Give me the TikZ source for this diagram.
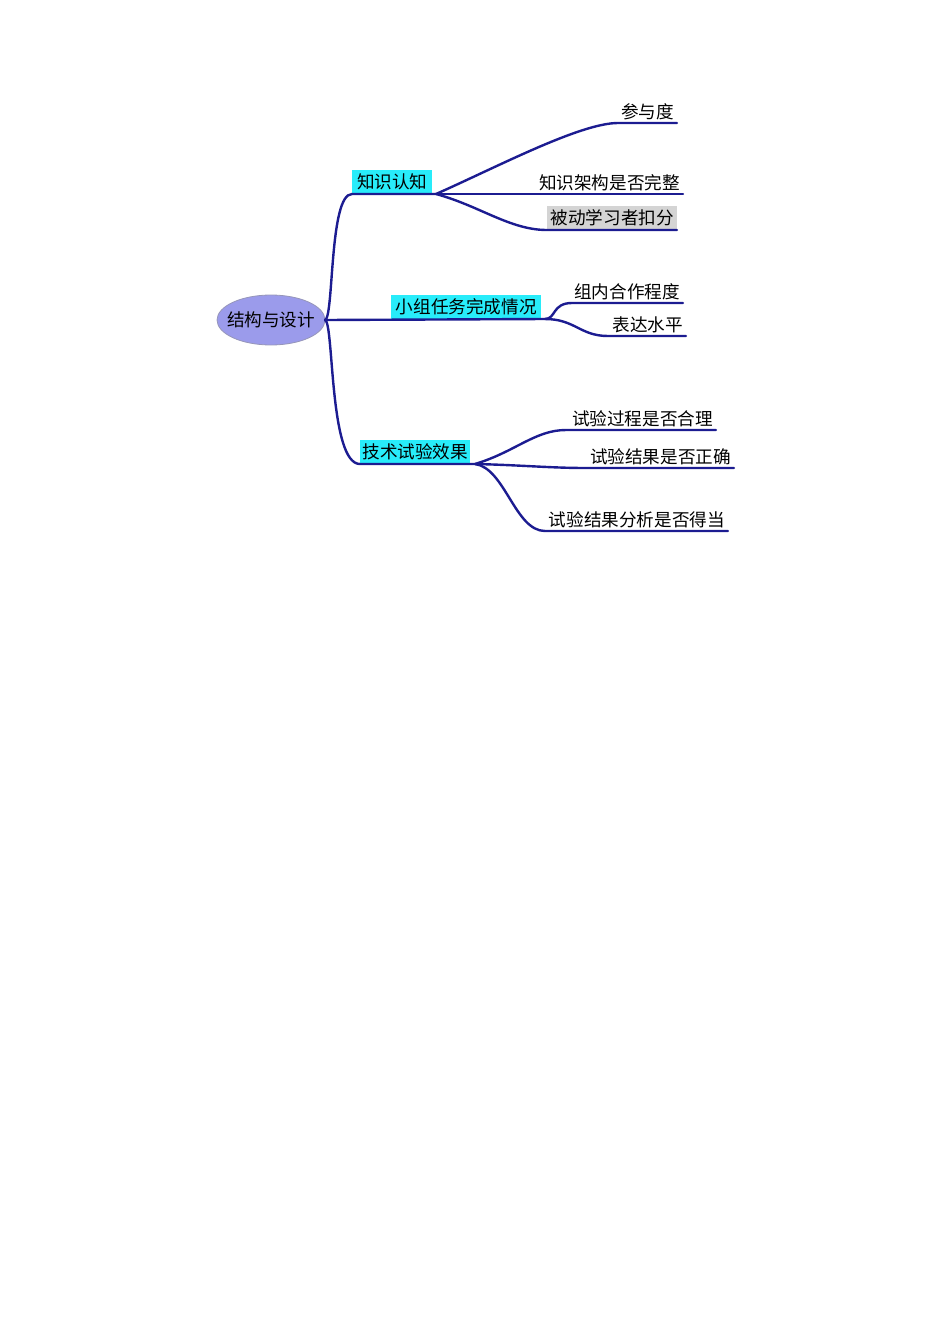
\documentclass[tikz,border=0pt]{standalone}
\usepackage{fontspec}
\usetikzlibrary{shapes.geometric}
\newfontfamily\cjk{Noto Sans CJK SC}
\definecolor{linkblue}{RGB}{28,28,145}
\definecolor{boxcyan}{RGB}{40,236,250}
\definecolor{rootfill}{RGB}{155,155,235}
\definecolor{rootline}{RGB}{150,150,185}
\definecolor{boxgray}{RGB}{212,212,212}
\begin{document}
\begin{tikzpicture}[x=1pt,y=-1pt,
  link/.style={draw=linkblue, line width=2.4pt, line cap=round, line join=round},
  lab/.style={font=\cjk\fontsize{17.6}{17.6}\selectfont, inner sep=0pt, anchor=base east, text=black},
  hbox/.style={font=\cjk\fontsize{17.6}{17.6}\selectfont, fill=boxcyan, inner sep=0pt, minimum height=24pt, anchor=south west, text=black},
  gbox/.style={font=\cjk\fontsize{17.6}{17.6}\selectfont, fill=boxgray, inner sep=0pt, minimum height=23pt, anchor=south west, text=black},
  rootnode/.style={ellipse, draw=rootline, line width=0.8pt, fill=rootfill, minimum width=108pt, minimum height=50pt, inner xsep=-14pt, inner ysep=0pt, font=\cjk\fontsize{17.6}{17.6}\selectfont}
]
\useasboundingbox (0,0) rectangle (950,1344);

% root
\node[rootnode] (root) at (271,320) {结构与设计};
\coordinate (r) at (325,320);

% main branches (boxes)
\node[hbox, minimum width=80pt] (b1) at (352,194) {知识认知};
\node[hbox, minimum width=150pt] (b2) at (391,319) {小组任务完成情况};
\node[hbox, minimum width=110pt] (b3) at (360,464) {技术试验效果};

\coordinate (j1) at (436,194);
\coordinate (j2) at (545,319);
\coordinate (j3) at (475,464);

\draw[link] (r) .. controls (334,318) and (329,194) .. (b1.south west) -- (j1);
\draw[link] (r) -- (j2);
\draw[link] (r) .. controls (334,322) and (329,464) .. (b3.south west) -- (j3);

% branch 1 children
\node[lab] (c11) at (674,118) {参与度};
\node[lab] (c12) at (680,189) {知识架构是否完整};
\node[gbox, minimum width=130pt] (c13) at (547,229) {被动学习者扣分};
\coordinate (u11a) at (618,123); \coordinate (u11b) at (677,123);
\coordinate (u12a) at (535,194); \coordinate (u12b) at (683,194);
\coordinate (u13a) at (547,230); \coordinate (u13b) at (677,230);
\draw[link] (j1) .. controls (495,168) and (580,123) .. (u11a) -- (u11b);
\draw[link] (j1) -- (u12a) -- (u12b);
\draw[link] (j1) .. controls (480,206) and (510,230) .. (u13a) -- (u13b);

% branch 2 children
\node[lab] (c21) at (680,298) {组内合作程度};
\node[lab] (c22) at (683,331) {表达水平};
\coordinate (u21a) at (572,303); \coordinate (u21b) at (683,303);
\coordinate (u22a) at (608,336); \coordinate (u22b) at (686,336);
\draw[link] (j2) .. controls (556,319) and (552,303) .. (u21a) -- (u21b);
\draw[link] (j2) .. controls (575,319) and (580,336) .. (u22a) -- (u22b);

% branch 3 children
\node[lab] (c31) at (713,425) {试验过程是否合理};
\node[lab] (c32) at (731,463) {试验结果是否正确};
\node[lab] (c33) at (725,526) {试验结果分析是否得当};
\coordinate (u31a) at (566,430); \coordinate (u31b) at (716,430);
\coordinate (u32a) at (586,468); \coordinate (u32b) at (734,468);
\coordinate (u33a) at (545,531); \coordinate (u33b) at (728,531);
\draw[link] (j3) .. controls (515,452) and (535,430) .. (u31a) -- (u31b);
\draw[link] (j3) .. controls (520,465) and (550,468) .. (u32a) -- (u32b);
\draw[link] (j3) .. controls (505,468) and (515,531) .. (u33a) -- (u33b);
\end{tikzpicture}
\end{document}
